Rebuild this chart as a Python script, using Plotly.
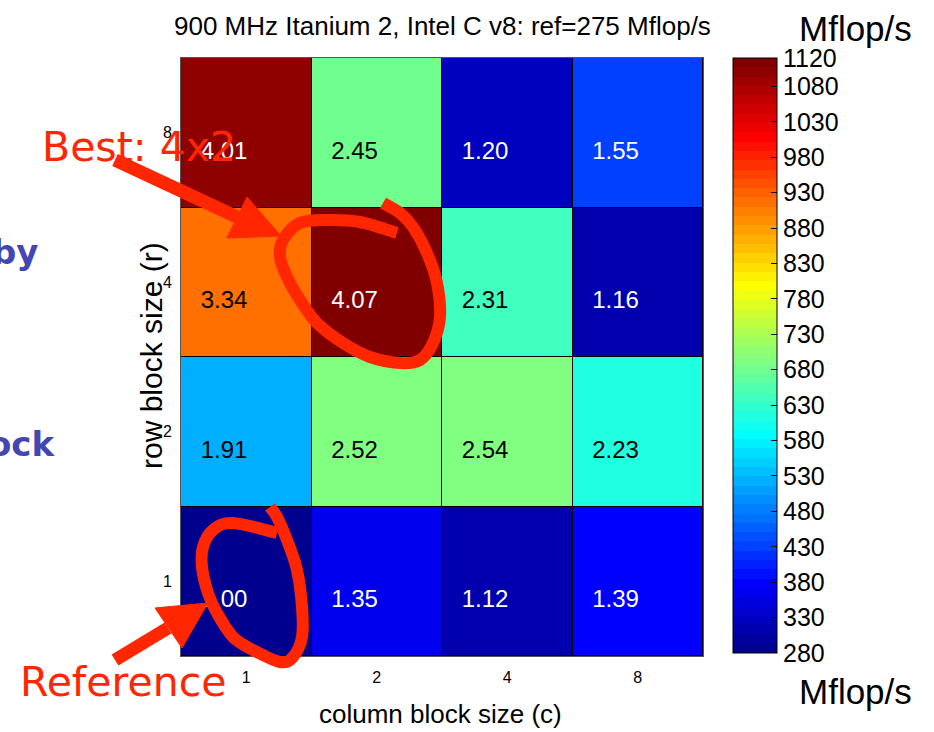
import math
import plotly.graph_objects as go

# ---------------- data ----------------
ref_mflops = 275
col_labels = ["1", "2", "4", "8"]          # column block size (c)
row_labels = ["1", "2", "4", "8"]          # row block size (r), bottom -> top
speedup_r1 = [1.00, 1.35, 1.12, 1.39]
speedup_r2 = [1.91, 2.52, 2.54, 2.23]
speedup_r4 = [3.34, 4.07, 2.31, 1.16]
speedup_r8 = [4.01, 2.45, 1.20, 1.55]
cbar_ticks = [280, 330, 380, 430, 480, 530, 580, 630, 680, 730, 780,
              830, 880, 930, 980, 1030, 1080, 1120]
cmin, cmax = 280, 1120

speedups = [speedup_r1, speedup_r2, speedup_r4, speedup_r8]
mflops = [[s * ref_mflops for s in row] for row in speedups]

# ---------------- Matlab jet(64) colormap ----------------
def jet(m=64):
    n = math.ceil(m / 4)
    u = [i / n for i in range(1, n + 1)] + [1.0] * (n - 1) + [i / n for i in range(n, 0, -1)]
    g0 = math.ceil(n / 2) - (1 if m % 4 == 1 else 0)
    g = [g0 + i for i in range(1, len(u) + 1)]
    r = [gi + n for gi in g]
    b = [gi - n for gi in g]
    J = [[0.0, 0.0, 0.0] for _ in range(m)]
    for k in range(len(u)):
        if 1 <= r[k] <= m:
            J[r[k] - 1][0] = u[k]
        if 1 <= g[k] <= m:
            J[g[k] - 1][1] = u[k]
        if 1 <= b[k] <= m:
            J[b[k] - 1][2] = u[k]
    return J

J = jet(64)
colorscale = []
for i, c in enumerate(J):
    col = "rgb(%d,%d,%d)" % tuple(round(v * 255) for v in c)
    colorscale.append([i / 64, col])
    colorscale.append([(i + 1) / 64, col])

# ---------------- layout geometry ----------------
W, H = 934, 732
L, R, T, B = 181, 703, 58, 656
CB_X, CB_TOP, CB_LEN, CB_THICK = 733, 58, 595, 44

def X(px):
    return (px - L) / (R - L)

def Y(py):
    return (B - py) / (B - T)

SANS = "Liberation Sans, Arial, Helvetica, sans-serif"
SLIDE = "DejaVu Sans, Verdana, sans-serif"
RED = "rgb(255,38,0)"
BLUE = "rgb(68,70,178)"

fig = go.Figure()

fig.add_trace(go.Heatmap(
    x=list(range(len(col_labels))),
    y=list(range(len(row_labels))),
    z=mflops,
    zmin=cmin, zmax=cmax,
    colorscale=colorscale,
    xgap=1, ygap=1,
    hoverinfo="skip",
    colorbar=dict(
        x=X(CB_X), xanchor="left",
        y=Y(CB_TOP), yanchor="top",
        len=CB_LEN, lenmode="pixels",
        thickness=CB_THICK, thicknessmode="pixels",
        xpad=0, ypad=0,
        outlinewidth=1, outlinecolor="black",
        borderwidth=0, bgcolor="rgba(0,0,0,0)",
        ticks="inside", ticklen=6, tickcolor="black",
        tickvals=cbar_ticks, ticktext=[str(t) for t in cbar_ticks],
        tickfont=dict(family=SANS, size=25, color="black"),
    ),
))

# cell value labels
tx, ty, tt, tc = [], [], [], []
for ri, row in enumerate(speedups):
    for ci, s in enumerate(row):
        v = s * ref_mflops
        tx.append(ci - 0.17)
        ty.append(ri - 0.135)
        tt.append("%.2f" % s)
        tc.append("white" if (v < 480 or v > 1000) else "black")

fig.add_trace(go.Scatter(
    x=tx, y=ty, text=tt, mode="text",
    textposition="middle center",
    textfont=dict(family=SANS, size=24, color=tc),
    hoverinfo="skip", showlegend=False,
))

# ---------------- hand-drawn decorations (pixel positions) ----------------
def smooth_path(pts):
    P = [pts[0]] + pts + [pts[-1]]
    d = "M %.5f,%.5f" % (X(pts[0][0]), Y(pts[0][1]))
    for i in range(1, len(P) - 2):
        p0, p1, p2, p3 = P[i - 1], P[i], P[i + 1], P[i + 2]
        c1 = (p1[0] + (p2[0] - p0[0]) / 6, p1[1] + (p2[1] - p0[1]) / 6)
        c2 = (p2[0] - (p3[0] - p1[0]) / 6, p2[1] - (p3[1] - p1[1]) / 6)
        d += " C %.5f,%.5f %.5f,%.5f %.5f,%.5f" % (X(c1[0]), Y(c1[1]), X(c2[0]), Y(c2[1]), X(p2[0]), Y(p2[1]))
    return d

def poly_path(pts):
    return "M " + " L ".join("%.5f,%.5f" % (X(a), Y(b)) for a, b in pts) + " Z"

loop_best = [(397, 233), (360, 222), (327, 220), (300, 223), (283, 240), (280, 257),
             (287, 277), (300, 300), (317, 323), (343, 343), (370, 357), (400, 363),
             (420, 360), (433, 343), (440, 317), (437, 283), (427, 253), (413, 227),
             (400, 213), (383, 203)]
loop_ref = [(277, 533), (233, 523), (213, 530), (203, 547), (202, 567), (208, 593),
            (217, 613), (233, 637), (253, 650), (280, 662), (293, 657), (302, 637),
            (302, 607), (297, 570), (287, 540), (277, 517), (270, 507)]

shapes = []
# left-side inner tick marks of the colorbar (Matlab draws ticks on both sides)
for t in cbar_ticks[1:-1]:
    py = CB_TOP + CB_LEN - (t - cmin) / (cmax - cmin) * CB_LEN
    shapes.append(dict(type="line", xref="paper", yref="paper",
                       x0=X(CB_X), x1=X(CB_X + 6), y0=Y(py), y1=Y(py),
                       line=dict(color="black", width=1), layer="above"))

for loop in (loop_best, loop_ref):
    shapes.append(dict(type="path", xref="paper", yref="paper", path=smooth_path(loop),
                       line=dict(color=RED, width=12), fillcolor="rgba(0,0,0,0)", layer="above"))

# arrows: shaft + head
arrows = [
    dict(start=(115, 160), base=(237, 217), head=[(247, 197), (227, 238), (281, 236)]),
    dict(start=(115, 660), base=(168, 628), head=[(155, 608), (182, 648), (208, 603)]),
]
for a in arrows:
    shapes.append(dict(type="line", xref="paper", yref="paper",
                       x0=X(a["start"][0]), y0=Y(a["start"][1]),
                       x1=X(a["base"][0]), y1=Y(a["base"][1]),
                       line=dict(color=RED, width=13), layer="above"))
    shapes.append(dict(type="path", xref="paper", yref="paper", path=poly_path(a["head"]),
                       line=dict(color=RED, width=1), fillcolor=RED, layer="above"))

annotations = [
    dict(text="900 MHz Itanium 2, Intel C v8: ref=275 Mflop/s", x=X(442), y=Y(26),
         font=dict(family=SANS, size=26, color="black")),
    dict(text="column block size (c)", x=X(440), y=Y(714),
         font=dict(family=SANS, size=26, color="black")),
    dict(text="row block size (r)", x=X(151), y=Y(356), textangle=-90,
         font=dict(family=SANS, size=30, color="black")),
    dict(text="Mflop/s", x=X(855), y=Y(29), font=dict(family=SANS, size=35, color="black")),
    dict(text="Mflop/s", x=X(855), y=Y(691), font=dict(family=SANS, size=35, color="black")),
    dict(text="Best: 4x2", x=X(40), y=Y(147), xanchor="left",
         font=dict(family=SLIDE, size=41, color=RED)),
    dict(text="Reference", x=X(18), y=Y(682), xanchor="left",
         font=dict(family=SLIDE, size=41, color=RED)),
    dict(text="<b>by</b>", x=X(41), y=Y(252), xanchor="right",
         font=dict(family=SLIDE, size=34, color=BLUE)),
    dict(text="<b>ock</b>", x=X(58), y=Y(444), xanchor="right",
         font=dict(family=SLIDE, size=34, color=BLUE)),
]
for an in annotations:
    an.setdefault("xanchor", "center")
    an.update(xref="paper", yref="paper", yanchor="middle", showarrow=False)

axis_common = dict(
    showgrid=False, zeroline=False, showline=True, mirror=True,
    linecolor="#555555", linewidth=1, ticks="", automargin=False,
    tickfont=dict(family=SANS, size=16, color="black"),
)

fig.update_layout(
    width=W, height=H,
    margin=dict(l=L, r=W - R, t=T, b=H - B, pad=0),
    paper_bgcolor="white", plot_bgcolor="black",
    xaxis=dict(range=[-0.5, 3.5], tickvals=[0, 1, 2, 3], ticktext=col_labels,
               ticklabelstandoff=7, **axis_common),
    yaxis=dict(range=[-0.5, 3.5], tickvals=[0, 1, 2, 3], ticktext=row_labels,
               ticklabelstandoff=5, **axis_common),
    shapes=shapes,
    annotations=annotations,
    showlegend=False,
)

fig.write_html("out.html", config={"displayModeBar": False},
               post_script="document.body.style.margin='0px';")
